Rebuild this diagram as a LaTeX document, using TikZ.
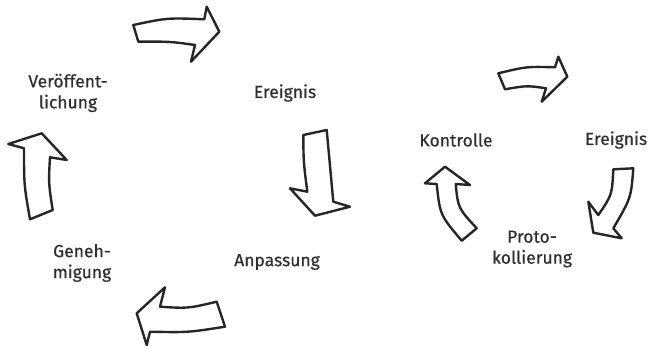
\documentclass[tikz,border=0pt]{standalone}
\usepackage{fontspec}
\setmainfont{Fira Sans}
\newfontfamily\lblfont[FakeBold=0.5]{Fira Sans}
\begin{document}
\begin{tikzpicture}[x=1pt,y=-1pt,
  blk/.style={draw=black!85,line width=2.4pt,line join=round,fill=white},
  lbl/.style={text=black!82,font=\lblfont\fontsize{17.5}{21}\selectfont,align=center,inner sep=0pt}]
\useasboundingbox (0,0) rectangle (652,347);
% labels
\node[lbl] (veroeff) at (68,93) {Veröffent-\\lichung};
\node[lbl] (ereignisL) at (285,93) {Ereignis};
\node[lbl] (anpassung) at (277,262) {Anpassung};
\node[lbl] (genehmigung) at (82,263) {Geneh-\\migung};
\node[lbl] (kontrolle) at (456,140) {Kontrolle};
\node[lbl] (ereignisR) at (616,140) {Ereignis};
\node[lbl] (proto) at (532,249) {Proto-\\kollierung};
% arrow A (top, right)
\draw[blk] (133.3,25) .. controls (167.2,17.8) .. (204.3,19.3) -- (206.7,6.7) -- (219.3,31.7)
  -- (191,61.7) -- (195,45) .. controls (170,41.5) .. (138.3,41.7) -- cycle;
% arrow B (down)
\draw[blk] (303.3,135) -- (326.7,130) .. controls (330,165) .. (333.3,201.7) -- (350,206.7)
  -- (315,215.7) -- (290,188.3) -- (307.3,191.7) .. controls (303.5,162) .. cycle;
% arrow C (bottom, left)
\draw[blk] (165,287.3) -- (160,306.7) .. controls (188,308.5) .. (216.7,301.7) -- (225,326.7)
  .. controls (188,332.5) .. (150,331.7) -- (146.7,345) -- (136.7,313.3) -- cycle;
% arrow D (up, left)
\draw[blk] (41.7,133.3) -- (66.7,160) -- (50,157.3) .. controls (48.5,183) .. (52.7,210)
  -- (30,219.3) .. controls (24,185) .. (24,148.3) -- (8.3,144) -- cycle;
% arrow E (right cycle, top)
\draw[blk] (498.3,73.3) .. controls (526.5,66.5) .. (555,67.3) -- (558.3,56.7) -- (567.3,76.7)
  -- (541.7,101.7) -- (546,88.3) .. controls (527,85.5) .. (505,89.3) -- cycle;
% arrow F (right cycle, down-left)
\draw[blk] (613.3,169.3) -- (633.3,168.3) .. controls (631,198) .. (613.3,228.3) -- (621.7,238.3)
  -- (593.3,232.7) -- (588.3,201.7) -- (598.3,215) .. controls (612,195) .. cycle;
% arrow G (right cycle, up)
\draw[blk] (445,166.7) -- (470,185) -- (455.7,184) .. controls (458,208) .. (476.7,228.3)
  -- (461.7,240.7) .. controls (440,215) .. (436.7,184) -- (425,183.3) -- cycle;
\end{tikzpicture}
\end{document}
